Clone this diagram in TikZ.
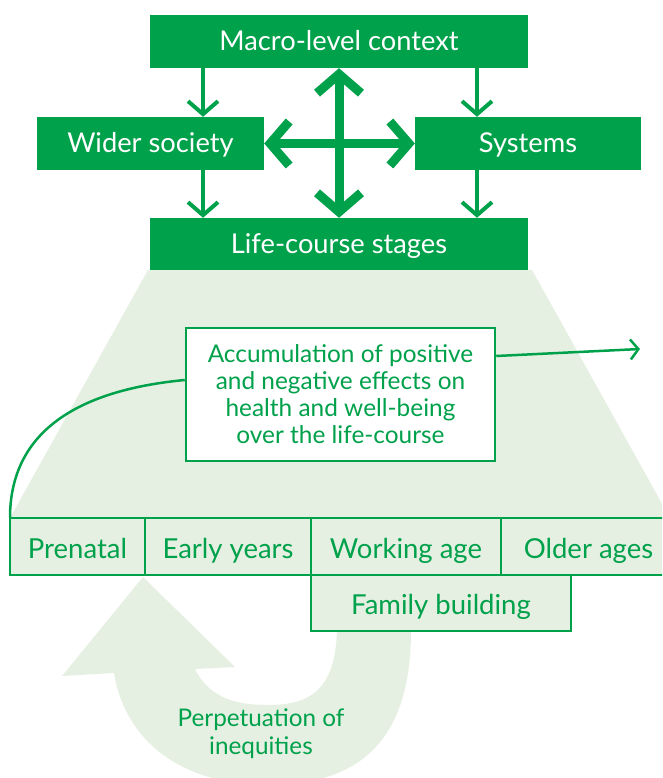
\documentclass[tikz,border=0pt]{standalone}
\usepackage{fontspec}
\setmainfont{Lato}
\usetikzlibrary{arrows.meta}

\definecolor{dgreen}{RGB}{0,161,75}
\definecolor{lgreen}{RGB}{229,240,227}

\tikzset{
  darkbox/.style={fill=dgreen, text=white, inner sep=0pt, minimum height=53pt, text height=25pt, text depth=6pt, font=\fontsize{27.3}{32}\selectfont},
  stagebox/.style={draw=dgreen, fill=lgreen, line width=2.5pt, text=dgreen, inner sep=0pt, outer sep=0pt, minimum height=57pt, text height=29pt, text depth=6pt, anchor=north west, font=\fontsize{27.5}{32}\selectfont},
  thinarr/.style={draw=dgreen, line width=4pt, -{Straight Barb[length=13pt,width=30pt]}},
  bigarr/.style={draw=dgreen, line width=9pt, {Straight Barb[length=19pt,width=44pt]}-{Straight Barb[length=19pt,width=44pt]}},
}

\begin{document}
\begin{tikzpicture}[x=1pt,y=-1pt]
\clip (0,0) rectangle (662,778);

% trapezoid under the stages
\fill[lgreen] (148,270) -- (532,270) -- (670,518) -- (10,518) -- cycle;

% perpetuation arrow
\fill[lgreen] (411,631) .. controls (411,740) and (360,785) .. (268,785)
  .. controls (180,785) and (125,740) .. (114,673)
  -- (62,676) -- (143,577) -- (235,667) -- (195,669)
  .. controls (210,700) and (240,705) .. (268,705)
  .. controls (310,705) and (335,690) .. (337,631) -- cycle;
\node[text=dgreen, align=center, font=\fontsize{24.3}{28}\selectfont] (perp) at (261,734) {Perpetuation of\\inequities};

% top boxes
\node[darkbox, minimum width=378pt] (macro) at (339,41.5) {Macro-level context};
\node[darkbox, minimum width=227pt] (wider) at (150.5,143.5) {Wider society};
\node[darkbox, minimum width=226pt] (systems) at (528,143.5) {Systems};
\node[darkbox, minimum width=378pt, minimum height=52pt] (life) at (339,244) {Life-course stages};

\draw[thinarr] (macro.south -| 203,0) -- (wider.north -| 203,0);
\draw[thinarr] (macro.south -| 477,0) -- (systems.north -| 477,0);
\draw[thinarr] (wider.south -| 203,0) -- (life.north -| 203,0);
\draw[thinarr] (systems.south -| 477,0) -- (life.north -| 477,0);

\draw[bigarr] (macro.south) -- (life.north);
\draw[bigarr] (wider.east) -- (systems.west);

% stages
\node[stagebox, minimum width=135pt] (prenatal) at (10,518) {Prenatal};
\node[stagebox, minimum width=166pt] (early) at (prenatal.north east) {Early years};
\node[stagebox, minimum width=190pt] (working) at (early.north east) {Working age};
\node[stagebox, minimum width=175pt] (older) at (working.north east) {Older ages};
\node[stagebox, minimum width=260pt, minimum height=56pt] (family) at (working.south west) {Family building};

% accumulation
\node[draw=dgreen, fill=white, line width=2.5pt, text=dgreen, align=center, minimum width=309pt, minimum height=133pt, font=\fontsize{24.4}{27}\selectfont] (acc) at (340.5,394.5) {Accumulation of positive\\and negative effects on\\health and well-being\\over the life-course};
\coordinate (accend) at (640,349);

\draw[dgreen, line width=2.5pt] (prenatal.north west) .. controls (10,430) and (80,390) .. ([yshift=14.5pt]acc.west);
\draw[dgreen, line width=2.5pt, -{Straight Barb[length=8pt,width=20pt]}] ([yshift=38.5pt]acc.east) -- (accend);

\end{tikzpicture}
\end{document}
